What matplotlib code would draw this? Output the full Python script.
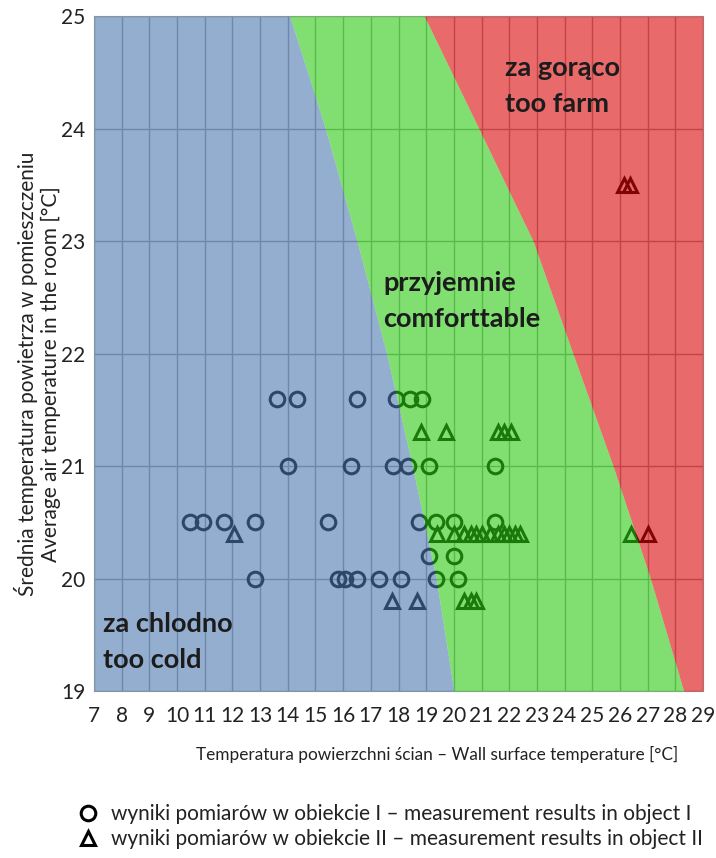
import numpy as np
import matplotlib.pyplot as plt
from matplotlib.lines import Line2D

plt.rcParams['font.family'] = ['Lato', 'DejaVu Sans']

# Comfort zone boundaries (wall temperature at each air temperature)
zone_y = [19, 20, 21, 22, 23, 24, 25]
cold_edge_x = [20.0, 19.36, 18.5, 17.57, 16.5, 15.36, 14.07]
hot_edge_x = [28.3, 27.1, 25.75, 24.3, 22.86, 20.9, 18.93]

# Object I measurements (circles)
obj1_x = [13.6, 14.35, 16.5, 17.9, 18.4, 18.85,
          14.0, 16.3, 17.8, 18.35, 19.1, 21.5,
          10.45, 10.95, 11.7, 12.8, 15.45, 18.75, 19.35, 20.0, 21.5,
          19.1, 20.0,
          12.8, 15.8, 16.05, 16.5, 17.3, 18.1, 19.35, 20.15]
obj1_y = [21.6] * 6 + [21.0] * 6 + [20.5] * 9 + [20.2] * 2 + [20.0] * 8

# Object II measurements (triangles)
obj2_x = [18.8, 19.7, 21.6, 21.8, 22.05,
          12.05, 19.4, 20.0, 20.35, 20.6, 20.8, 21.0, 21.3, 21.6, 21.8, 22.0,
          22.2, 22.4, 26.4, 27.0,
          17.75, 18.65, 20.35, 20.6, 20.8,
          26.15, 26.35]
obj2_y = [21.3] * 5 + [20.4] * 15 + [19.8] * 5 + [23.5] * 2

x_ticks = list(range(7, 30))
y_ticks = list(range(19, 26))

fig = plt.figure(figsize=(7.16, 8.58), dpi=100)
ax = fig.add_axes([0.1313, 0.1946, 0.8506, 0.7867])

ax.set_xlim(7, 29)
ax.set_ylim(19, 25)
ax.set_xticks(x_ticks)
ax.set_yticks(y_ticks)
ax.tick_params(length=0, labelsize=15, colors='#222222')
ax.tick_params(axis='x', pad=11)
ax.tick_params(axis='y', pad=6)
ax.grid(True, color='#a0a0a0', linewidth=1.0, zorder=0.5)
ax.set_axisbelow(True)
for sp in ax.spines.values():
    sp.set_color('#a0a0a0')
    sp.set_linewidth(0.8)
    sp.set_zorder(0.6)

l1, = ax.plot(obj1_x, obj1_y, 'o', ms=10.5, mfc='none', mec='black', mew=2.2,
              zorder=2, linestyle='none')
l2, = ax.plot(obj2_x, obj2_y, '^', ms=9.5, mfc='none', mec='black', mew=2.2,
              zorder=2, linestyle='none')

# Translucent zones laid over grid and markers, so everything under them is tinted
ax.fill_betweenx(zone_y, 7, cold_edge_x, color='#4d78b1', alpha=0.6, lw=0, zorder=3)
ax.fill_betweenx(zone_y, cold_edge_x, hot_edge_x, color='#2bcb11', alpha=0.6, lw=0, zorder=3)
ax.fill_betweenx(zone_y, hot_edge_x, 29, color='#d90707', alpha=0.6, lw=0, zorder=3)

zone_kw = dict(fontsize=19.5, fontweight='bold', color='#1c1c1c', zorder=4,
               ha='left', va='center', linespacing=1.6)
ax.text(21.85, 24.38, 'za gorąco\ntoo farm', **zone_kw)
ax.text(17.45, 22.47, 'przyjemnie\ncomforttable', **zone_kw)
ax.text(7.33, 19.44, 'za chlodno\ntoo cold', **zone_kw)

ax.set_xlabel('Temperatura powierzchni ścian – Wall surface temperature [°C]',
              fontsize=12.4, color='#222222', va='top')
ax.xaxis.set_label_coords(0.564, -0.081)
ax.set_ylabel('Średnia temperatura powietrza w pomieszczeniu\n'
              'Average air temperature in the room [°C]',
              fontsize=15, color='#222222', linespacing=1.2)
ax.yaxis.set_label_coords(-0.054, 0.47)

fig.legend([l1, l2],
           ['wyniki pomiarów w obiekcie I – measurement results in object I',
            'wyniki pomiarów w obiekcie II – measurement results in object II'],
           loc='upper left', bbox_to_anchor=(0.107, 0.063), frameon=False,
           fontsize=15, handletextpad=0.55, handlelength=1.1,
           labelspacing=0.25, borderaxespad=0, borderpad=0,
           labelcolor='#222222')

fig.savefig('out.png', dpi=100)
